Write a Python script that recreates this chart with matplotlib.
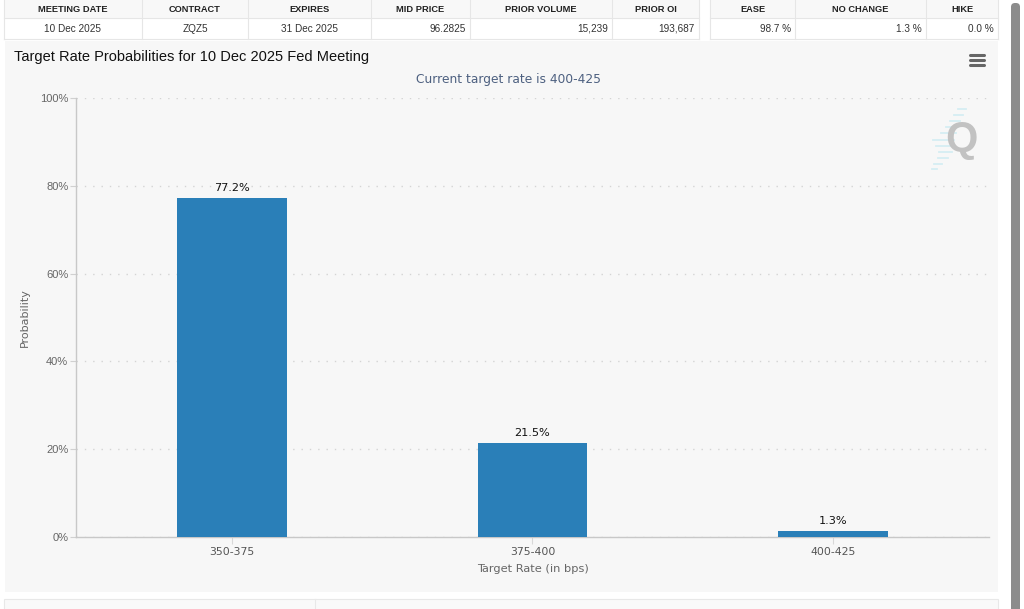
import matplotlib
matplotlib.use("Agg")
import matplotlib.pyplot as plt
from matplotlib.patches import Rectangle, FancyBboxPatch

# --- data ---
categories = ["350-375", "375-400", "400-425"]
probabilities = [77.2, 21.5, 1.3]
y_ticks = [0, 20, 40, 60, 80, 100]

left_headers = ["MEETING DATE", "CONTRACT", "EXPIRES", "MID PRICE", "PRIOR VOLUME", "PRIOR OI"]
left_values = ["10 Dec 2025", "ZQZ5", "31 Dec 2025", "96.2825", "15,239", "193,687"]
right_headers = ["EASE", "NO CHANGE", "HIKE"]
right_values = ["98.7 %", "1.3 %", "0.0 %"]
left_edges = [4, 142, 248, 371, 470, 612, 699]
right_edges = [710, 795, 926, 998]

title = "Target Rate Probabilities for 10 Dec 2025 Fed Meeting"
subtitle = "Current target rate is 400-425"

BAR = "#2a7fb8"
PANEL = "#f7f7f7"
GRID = "#d4d4d4"
ARIAL = ["Liberation Sans", "DejaVu Sans"]

W, H = 1024, 609
fig = plt.figure(figsize=(W / 100, H / 100), dpi=100, facecolor="white")

# page layer in pixel coordinates
bg = fig.add_axes([0, 0, 1, 1], zorder=0)
bg.set_xlim(0, W); bg.set_ylim(H, 0); bg.axis("off")

bg.add_patch(Rectangle((5, 41), 993, 551, fc=PANEL, ec="none"))
bg.add_patch(Rectangle((4, 599), 994, 12, fc="#f9f9f9", ec="#e8e8e8", lw=0.8))
bg.plot([315, 315], [599, 609], color="#e8e8e8", lw=0.8)

def table(edges, headers, values, aligns):
    x0, x1 = edges[0], edges[-1]
    bg.add_patch(Rectangle((x0, 0), x1 - x0, 18, fc="#f8f8f8", ec="none"))
    bg.plot([x0, x1], [18, 18], color="#e6e6e6", lw=0.8)
    bg.plot([x0, x1], [39, 39], color="#e6e6e6", lw=0.8)
    for e in edges:
        bg.plot([e, e], [0, 39], color="#e6e6e6", lw=0.8)
    for i, (h, v) in enumerate(zip(headers, values)):
        l, r = edges[i], edges[i + 1]
        bg.text((l + r) / 2, 9, h, ha="center", va="center", fontsize=6.7,
                fontweight="bold", family=ARIAL, color="#222222")
        if aligns[i] == "center":
            bg.text((l + r) / 2, 28.5, v, ha="center", va="center", fontsize=7.2,
                    family=ARIAL, color="#333333")
        else:
            bg.text(r - 4, 28.5, v, ha="right", va="center", fontsize=7.2,
                    family=ARIAL, color="#333333")

table(left_edges, left_headers, left_values,
      ["center", "center", "center", "right", "right", "right"])
table(right_edges, right_headers, right_values, ["right", "right", "right"])

bg.text(14, 57.5, title, ha="left", va="center", fontsize=10.5, family=ARIAL, color="#111111")
bg.text(508, 79, subtitle, ha="center", va="center", fontsize=8.8,
        family="DejaVu Sans", color="#4d6080")

# hamburger menu
for yy in (54.5, 59.5, 64.5):
    bg.plot([970, 984], [yy, yy], color="#666666", lw=2.2, solid_capstyle="round")

# watermark
for yy, a, b in [(109, 958, 966), (115, 954, 963), (121, 950, 960), (127, 946, 958),
                 (133, 941, 956), (140, 933, 954), (146, 936, 955), (152, 939, 952),
                 (158, 938, 948), (164, 934, 942), (169, 932, 937)]:
    bg.plot([a, b], [yy, yy], color="#d5eef3", lw=1.3)
bg.text(961.5, 140, "Q", ha="center", va="center", fontsize=30, fontweight="bold",
        family=ARIAL, color="#c2c2c2")

# scrollbar
bg.add_patch(FancyBboxPatch((1011, 3), 9, 613, boxstyle="round,pad=0,rounding_size=4",
                            fc="#8c8c8c", ec="none"))

# chart
ax = fig.add_axes([76 / W, 1 - 537 / H, (989 - 76) / W, (537 - 98) / H], zorder=1)
ax.patch.set_alpha(0)
positions = list(range(len(categories)))
bars = ax.bar(positions, probabilities, width=0.366, color=BAR, zorder=3)
ax.set_xlim(-0.519, 2.519)
ax.set_ylim(0, 100)
ax.set_yticks(y_ticks)
ax.set_yticklabels([f"{t}%" for t in y_ticks], fontsize=8, color="#666666", family=ARIAL)
ax.set_xticks(positions)
ax.set_xticklabels(categories, fontsize=7.8, color="#555555", family="DejaVu Sans")
ax.yaxis.grid(True, color=GRID, lw=1, linestyle=(0, (1, 5)), zorder=0)
ax.set_axisbelow(True)
for s in ("top", "right"):
    ax.spines[s].set_visible(False)
for s in ("left", "bottom"):
    ax.spines[s].set_color("#c8c8c8")
    ax.spines[s].set_linewidth(1.0)
ax.tick_params(axis="y", length=4, width=0.8, color="#d0d0d0", pad=1.5)
ax.tick_params(axis="x", length=5, width=0.8, color="#d8d8d8", pad=2)
ax.set_ylabel("Probability", fontsize=8, color="#666666", labelpad=7, family="DejaVu Sans")
ax.set_xlabel("Target Rate (in bps)", fontsize=8.2, color="#666666", labelpad=5, family="DejaVu Sans")
for b, v in zip(bars, probabilities):
    ax.annotate(f"{v}%", (b.get_x() + b.get_width() / 2, v), xytext=(0, 3.5),
                textcoords="offset points", ha="center", va="bottom",
                fontsize=8.1, color="#111111", family="DejaVu Sans")

fig.savefig("out.png", dpi=100, facecolor="white")
